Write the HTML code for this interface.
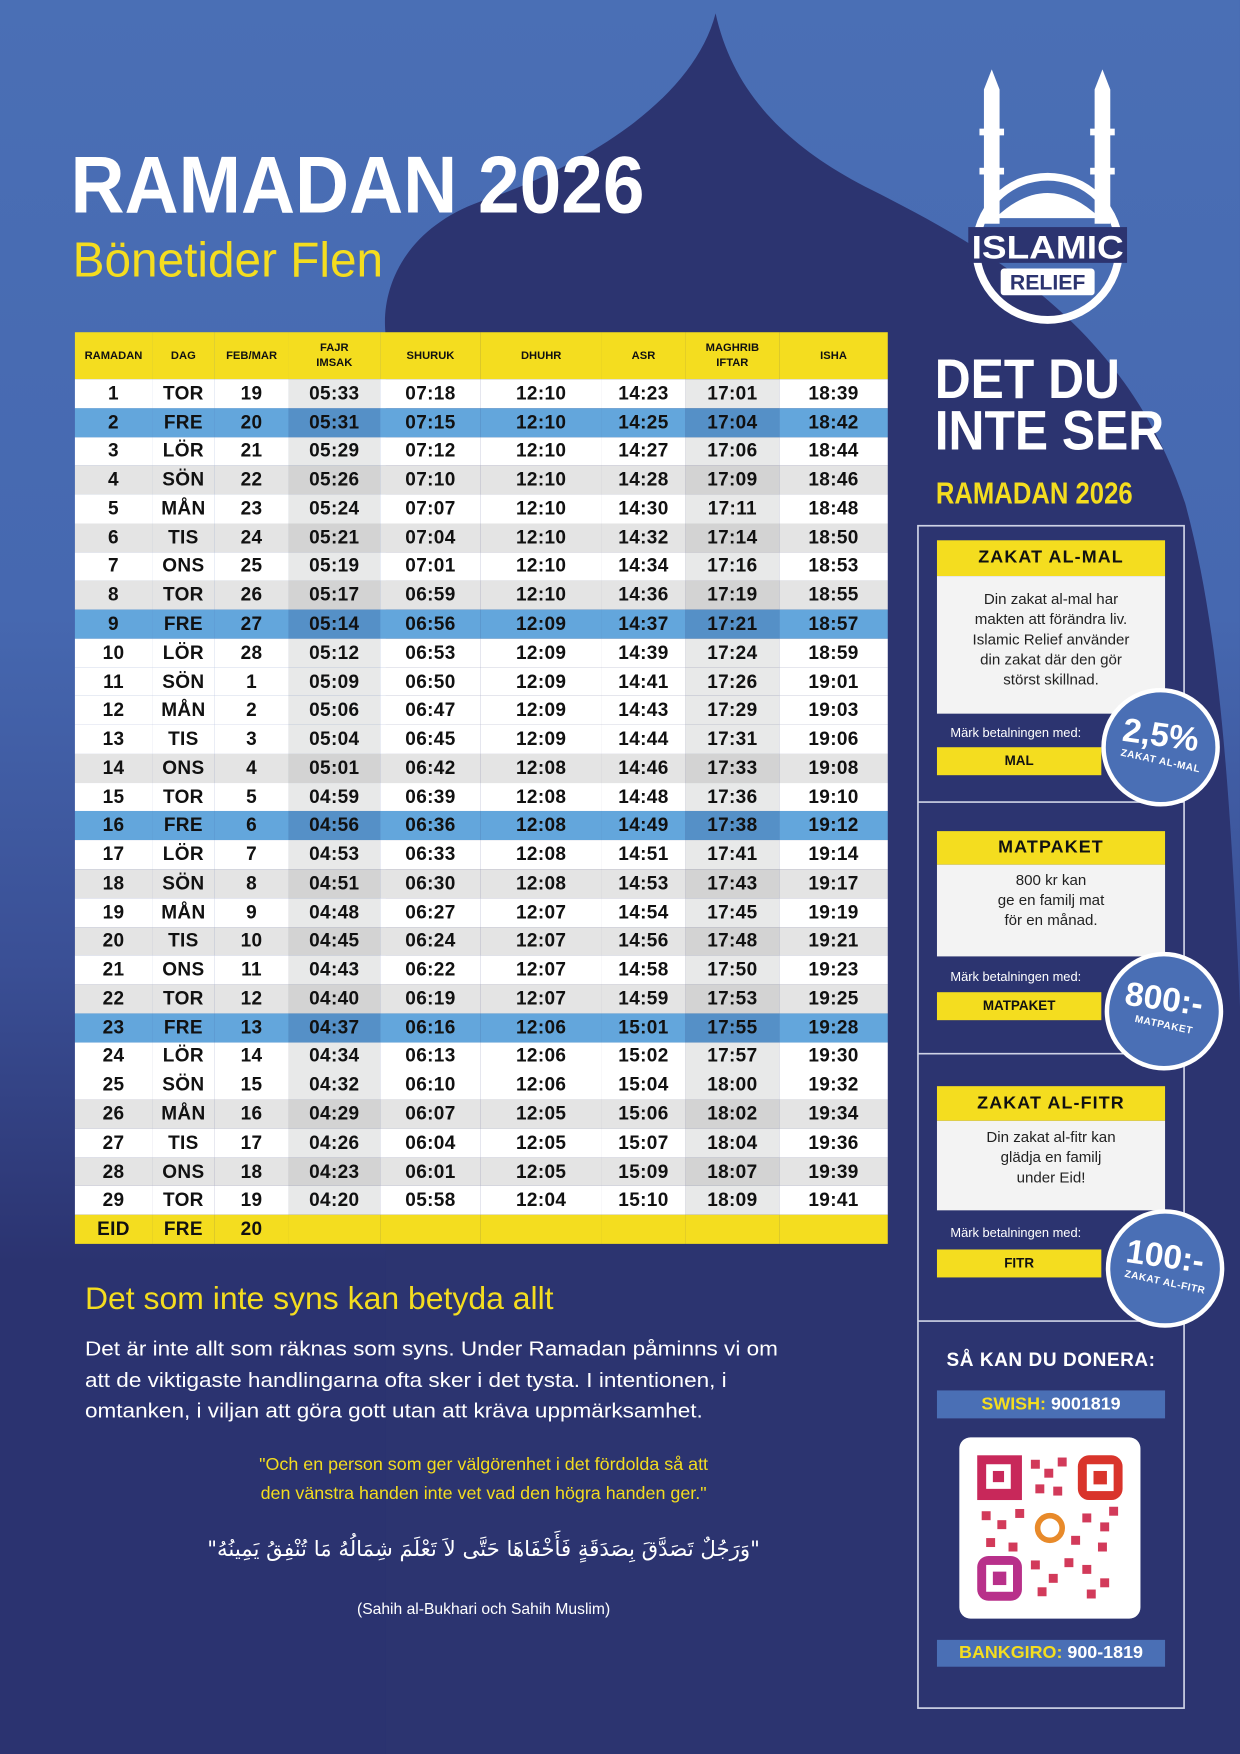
<!DOCTYPE html>
<html><head><meta charset="utf-8"><style>
html,body{margin:0;padding:0;width:1240px;height:1754px;overflow:hidden;background:#2b3370}
#w{position:absolute;left:0;top:0;width:1109px;height:1568px;transform:scale(1.1181,1.1186);transform-origin:0 0;font-family:"Liberation Sans","DejaVu Sans",sans-serif;overflow:hidden;background:linear-gradient(180deg,#4a6fb5 0%,#4668b0 35%,#3a4f95 55%,#2b3370 72%,#2b3370 100%)}
.a{position:absolute}
table{border-collapse:collapse;border-spacing:0;position:absolute;left:67px;top:297px;width:727px;table-layout:fixed;font-weight:bold;color:#111}
td{padding:0;border:0;text-align:center;height:25.77px;font-size:17px;letter-spacing:.3px}
th{background:#f4dd1f;height:42px;font-size:10px;line-height:13px;font-weight:bold;color:#111;padding:0;border:0}
tr.w td{background:#fff}tr.g td{background:#e4e4e4}tr.b td{background:#63a6dc}
tr.w td.s{background:#e8e9e9}tr.g td.s{background:#d3d3d3}tr.b td.s{background:#5590c7}
tr.y td{background:#f4dd1f}
.hd{position:absolute;left:838px;width:204px;background:#f4dd1f;color:#111;font-weight:bold;font-size:16px;text-align:center;letter-spacing:1px}
.bx{position:absolute;left:838px;width:204px;background:#f3f3f3;color:#222;font-size:13.5px;line-height:18px;text-align:center}
.mk{position:absolute;left:850px;color:#fff;font-size:11.5px}
.bar{position:absolute;left:838px;width:147px;height:25px;background:#f4dd1f;color:#111;font-weight:bold;font-size:12px;text-align:center;line-height:25px}
.c{position:absolute;width:98px;height:98px;border-radius:50%;background:#4a6fb5;border:4px solid #fff;color:#fff;text-align:center;font-weight:bold}
.c b{display:block;font-size:30px;margin-top:22px;transform:rotate(8deg)}
.c i{display:block;font-style:normal;font-size:9px;transform:rotate(12deg);letter-spacing:.5px}
</style></head><body><div id="w">
<svg class="a" style="left:0;top:0" width="1109" height="1568">
<path d="M640 12 C620 90 520 150 430 180 C360 205 340 260 345 300 L345 1568 L1109 1568 L1109 900 C1100 700 1090 560 1060 450 C1010 300 900 230 780 170 C700 130 655 80 640 12 Z" fill="#2c3470"/>
<rect x="821" y="470" width="238" height="1057" fill="none" stroke="#cfd3e6" stroke-width="1.5"/>
<line x1="821" y1="717" x2="1059" y2="717" stroke="#cfd3e6" stroke-width="1.5"/>
<line x1="821" y1="942" x2="1059" y2="942" stroke="#cfd3e6" stroke-width="1.5"/>
<line x1="821" y1="1181" x2="1059" y2="1181" stroke="#cfd3e6" stroke-width="1.5"/>
<g fill="#fff">
<rect x="880" y="80" width="14" height="120"/><polygon points="880,80 887,62 894,80"/><rect x="876" y="115" width="22" height="6"/><rect x="876" y="150" width="22" height="6"/>
<rect x="979" y="80" width="14" height="120"/><polygon points="979,80 986,62 993,80"/><rect x="975" y="115" width="22" height="6"/><rect x="975" y="150" width="22" height="6"/>
<circle cx="937" cy="222" r="64" fill="none" stroke="#fff" stroke-width="7"/>
<path d="M890 195 Q937 150 984 195Z"/>
<rect x="866" y="203" width="142" height="32" fill="#2c3470"/>
<rect x="895" y="240" width="84" height="24" rx="3"/>
</g>
<text x="937" y="231" fill="#fff" font-size="29" font-weight="bold" text-anchor="middle" font-family="Liberation Sans" textLength="136" lengthAdjust="spacingAndGlyphs">ISLAMIC</text>
<text x="937" y="259" fill="#2c3470" font-size="19" font-weight="bold" text-anchor="middle" font-family="Liberation Sans">RELIEF</text>
</svg>
<div class="a" style="left:63px;top:128px;color:#fff;font-size:72px;font-weight:bold;line-height:76px;white-space:nowrap;transform:scaleX(.93);transform-origin:0 0">RAMADAN 2026</div>
<div class="a" style="left:65px;top:208px;color:#f4dd1f;font-size:44px;line-height:50px;white-space:nowrap;transform:scaleX(.97);transform-origin:0 0">Bönetider Flen</div>
<table>
<colgroup><col style="width:69px"><col style="width:56px"><col style="width:66px"><col style="width:82px"><col style="width:90px"><col style="width:108px"><col style="width:75px"><col style="width:84px"><col style="width:97px"></colgroup>
<tr><th>RAMADAN</th><th>DAG</th><th>FEB/MAR</th><th>FAJR<br>IMSAK</th><th>SHURUK</th><th>DHUHR</th><th>ASR</th><th>MAGHRIB<br>IFTAR</th><th>ISHA</th></tr>
<tr class="w"><td>1</td><td>TOR</td><td>19</td><td class="s">05:33</td><td>07:18</td><td>12:10</td><td>14:23</td><td class="s">17:01</td><td>18:39</td></tr>
<tr class="b"><td>2</td><td>FRE</td><td>20</td><td class="s">05:31</td><td>07:15</td><td>12:10</td><td>14:25</td><td class="s">17:04</td><td>18:42</td></tr>
<tr class="w"><td>3</td><td>LÖR</td><td>21</td><td class="s">05:29</td><td>07:12</td><td>12:10</td><td>14:27</td><td class="s">17:06</td><td>18:44</td></tr>
<tr class="g"><td>4</td><td>SÖN</td><td>22</td><td class="s">05:26</td><td>07:10</td><td>12:10</td><td>14:28</td><td class="s">17:09</td><td>18:46</td></tr>
<tr class="w"><td>5</td><td>MÅN</td><td>23</td><td class="s">05:24</td><td>07:07</td><td>12:10</td><td>14:30</td><td class="s">17:11</td><td>18:48</td></tr>
<tr class="g"><td>6</td><td>TIS</td><td>24</td><td class="s">05:21</td><td>07:04</td><td>12:10</td><td>14:32</td><td class="s">17:14</td><td>18:50</td></tr>
<tr class="w"><td>7</td><td>ONS</td><td>25</td><td class="s">05:19</td><td>07:01</td><td>12:10</td><td>14:34</td><td class="s">17:16</td><td>18:53</td></tr>
<tr class="g"><td>8</td><td>TOR</td><td>26</td><td class="s">05:17</td><td>06:59</td><td>12:10</td><td>14:36</td><td class="s">17:19</td><td>18:55</td></tr>
<tr class="b"><td>9</td><td>FRE</td><td>27</td><td class="s">05:14</td><td>06:56</td><td>12:09</td><td>14:37</td><td class="s">17:21</td><td>18:57</td></tr>
<tr class="w"><td>10</td><td>LÖR</td><td>28</td><td class="s">05:12</td><td>06:53</td><td>12:09</td><td>14:39</td><td class="s">17:24</td><td>18:59</td></tr>
<tr class="w"><td>11</td><td>SÖN</td><td>1</td><td class="s">05:09</td><td>06:50</td><td>12:09</td><td>14:41</td><td class="s">17:26</td><td>19:01</td></tr>
<tr class="w"><td>12</td><td>MÅN</td><td>2</td><td class="s">05:06</td><td>06:47</td><td>12:09</td><td>14:43</td><td class="s">17:29</td><td>19:03</td></tr>
<tr class="w"><td>13</td><td>TIS</td><td>3</td><td class="s">05:04</td><td>06:45</td><td>12:09</td><td>14:44</td><td class="s">17:31</td><td>19:06</td></tr>
<tr class="g"><td>14</td><td>ONS</td><td>4</td><td class="s">05:01</td><td>06:42</td><td>12:08</td><td>14:46</td><td class="s">17:33</td><td>19:08</td></tr>
<tr class="w"><td>15</td><td>TOR</td><td>5</td><td class="s">04:59</td><td>06:39</td><td>12:08</td><td>14:48</td><td class="s">17:36</td><td>19:10</td></tr>
<tr class="b"><td>16</td><td>FRE</td><td>6</td><td class="s">04:56</td><td>06:36</td><td>12:08</td><td>14:49</td><td class="s">17:38</td><td>19:12</td></tr>
<tr class="w"><td>17</td><td>LÖR</td><td>7</td><td class="s">04:53</td><td>06:33</td><td>12:08</td><td>14:51</td><td class="s">17:41</td><td>19:14</td></tr>
<tr class="g"><td>18</td><td>SÖN</td><td>8</td><td class="s">04:51</td><td>06:30</td><td>12:08</td><td>14:53</td><td class="s">17:43</td><td>19:17</td></tr>
<tr class="w"><td>19</td><td>MÅN</td><td>9</td><td class="s">04:48</td><td>06:27</td><td>12:07</td><td>14:54</td><td class="s">17:45</td><td>19:19</td></tr>
<tr class="g"><td>20</td><td>TIS</td><td>10</td><td class="s">04:45</td><td>06:24</td><td>12:07</td><td>14:56</td><td class="s">17:48</td><td>19:21</td></tr>
<tr class="w"><td>21</td><td>ONS</td><td>11</td><td class="s">04:43</td><td>06:22</td><td>12:07</td><td>14:58</td><td class="s">17:50</td><td>19:23</td></tr>
<tr class="g"><td>22</td><td>TOR</td><td>12</td><td class="s">04:40</td><td>06:19</td><td>12:07</td><td>14:59</td><td class="s">17:53</td><td>19:25</td></tr>
<tr class="b"><td>23</td><td>FRE</td><td>13</td><td class="s">04:37</td><td>06:16</td><td>12:06</td><td>15:01</td><td class="s">17:55</td><td>19:28</td></tr>
<tr class="w"><td>24</td><td>LÖR</td><td>14</td><td class="s">04:34</td><td>06:13</td><td>12:06</td><td>15:02</td><td class="s">17:57</td><td>19:30</td></tr>
<tr class="w"><td>25</td><td>SÖN</td><td>15</td><td class="s">04:32</td><td>06:10</td><td>12:06</td><td>15:04</td><td class="s">18:00</td><td>19:32</td></tr>
<tr class="g"><td>26</td><td>MÅN</td><td>16</td><td class="s">04:29</td><td>06:07</td><td>12:05</td><td>15:06</td><td class="s">18:02</td><td>19:34</td></tr>
<tr class="w"><td>27</td><td>TIS</td><td>17</td><td class="s">04:26</td><td>06:04</td><td>12:05</td><td>15:07</td><td class="s">18:04</td><td>19:36</td></tr>
<tr class="g"><td>28</td><td>ONS</td><td>18</td><td class="s">04:23</td><td>06:01</td><td>12:05</td><td>15:09</td><td class="s">18:07</td><td>19:39</td></tr>
<tr class="w"><td>29</td><td>TOR</td><td>19</td><td class="s">04:20</td><td>05:58</td><td>12:04</td><td>15:10</td><td class="s">18:09</td><td>19:41</td></tr>
<tr class="y"><td>EID</td><td>FRE</td><td>20</td><td></td><td></td><td></td><td></td><td></td><td></td></tr>
</table>
<div class="a" style="left:836px;top:316px;color:#fff;font-size:50px;font-weight:bold;line-height:46px;width:210px;transform:scaleX(.89);transform-origin:0 0;white-space:nowrap">DET DU<br>INTE SER</div>
<div class="a" style="left:837px;top:426px;color:#f4dd1f;font-size:27px;font-weight:bold;white-space:nowrap;transform:scaleX(.85);transform-origin:0 0">RAMADAN 2026</div>

<div class="hd" style="top:483px;height:32px;line-height:32px">ZAKAT AL-MAL</div>
<div class="bx" style="top:515px;height:123px;padding-top:12px;box-sizing:border-box">Din zakat al-mal har<br>makten att förändra liv.<br>Islamic Relief använder<br>din zakat där den gör<br>störst skillnad.</div>
<div class="mk" style="top:650px">Märk betalningen med:</div>
<div class="bar" style="top:668px">MAL</div>
<div class="c" style="left:985px;top:615px"><b>2,5%</b><i>ZAKAT AL-MAL</i></div>

<div class="hd" style="top:743px;height:30px;line-height:30px">MATPAKET</div>
<div class="bx" style="top:773px;height:82px;padding-top:5px;box-sizing:border-box">800 kr kan<br>ge en familj mat<br>för en månad.</div>
<div class="mk" style="top:868px">Märk betalningen med:</div>
<div class="bar" style="top:887px">MATPAKET</div>
<div class="c" style="left:988px;top:851px"><b>800:-</b><i>MATPAKET</i></div>

<div class="hd" style="top:971px;height:31px;line-height:31px">ZAKAT AL-FITR</div>
<div class="bx" style="top:1002px;height:80px;padding-top:6px;box-sizing:border-box">Din zakat al-fitr kan<br>glädja en familj<br>under Eid!</div>
<div class="mk" style="top:1097px">Märk betalningen med:</div>
<div class="bar" style="top:1117px">FITR</div>
<div class="c" style="left:989px;top:1081px"><b>100:-</b><i>ZAKAT AL-FITR</i></div>

<div class="a" style="left:821px;width:238px;top:1206px;text-align:center;color:#fff;font-weight:bold;font-size:17px;letter-spacing:.5px">SÅ KAN DU DONERA:</div>
<div class="a" style="left:838px;top:1243px;width:204px;height:25px;background:#4a6fb5;text-align:center;line-height:25px;font-weight:bold;font-size:16px;color:#fff"><span style="color:#f4dd1f">SWISH:</span> 9001819</div>
<div class="a" style="left:858px;top:1285px;width:162px;height:162px;background:#fff;border-radius:10px"></div>
<svg class="a" style="left:872px;top:1299px" width="134" height="134">
<rect x="2" y="2" width="40" height="40" fill="#c8285a"/><rect x="10" y="10" width="22" height="22" fill="#fff"/><rect x="16" y="16" width="10" height="10" fill="#c8285a"/>
<rect x="92" y="2" width="40" height="40" rx="10" fill="#d9342b"/><rect x="100" y="10" width="24" height="24" fill="#fff"/><rect x="106" y="16" width="12" height="12" fill="#d9342b"/>
<rect x="2" y="92" width="40" height="40" rx="10" fill="#b8308a"/><rect x="10" y="100" width="24" height="24" fill="#fff"/><rect x="16" y="106" width="12" height="12" fill="#b8308a"/>
<g fill="#d23a5a"><rect x="50" y="6" width="8" height="8"/><rect x="62" y="14" width="8" height="8"/><rect x="74" y="4" width="8" height="8"/><rect x="54" y="28" width="8" height="8"/><rect x="70" y="30" width="8" height="8"/><rect x="6" y="52" width="8" height="8"/><rect x="20" y="60" width="8" height="8"/><rect x="36" y="50" width="8" height="8"/><rect x="96" y="54" width="8" height="8"/><rect x="112" y="62" width="8" height="8"/><rect x="120" y="48" width="8" height="8"/><rect x="50" y="96" width="8" height="8"/><rect x="66" y="108" width="8" height="8"/><rect x="80" y="94" width="8" height="8"/><rect x="96" y="100" width="8" height="8"/><rect x="112" y="112" width="8" height="8"/><rect x="100" y="122" width="8" height="8"/><rect x="56" y="120" width="8" height="8"/><rect x="10" y="76" width="8" height="8"/><rect x="30" y="80" width="8" height="8"/><rect x="110" y="80" width="8" height="8"/><rect x="86" y="74" width="8" height="8"/></g>
<circle cx="67" cy="67" r="11" fill="none" stroke="#e88a2a" stroke-width="5"/>
</svg>
<div class="a" style="left:838px;top:1466px;width:204px;height:24px;background:#4a6fb5;text-align:center;line-height:24px;font-weight:bold;font-size:16px;color:#fff"><span style="color:#f4dd1f">BANKGIRO:</span> 900-1819</div>

<div class="a" style="left:76px;top:1145px;color:#f4dd1f;font-size:28px;white-space:nowrap;transform:scaleX(1.02);transform-origin:0 0">Det som inte syns kan betyda allt</div>
<div class="a" style="left:76px;top:1192px;color:#fff;font-size:18.5px;line-height:27.5px;white-space:nowrap;transform:scaleX(1.09);transform-origin:0 0">Det är inte allt som räknas som syns. Under Ramadan påminns vi om<br>att de viktigaste handlingarna ofta sker i det tysta. I intentionen, i<br>omtanken, i viljan att göra gott utan att kräva uppmärksamhet.</div>
<div class="a" style="left:100px;width:665px;top:1297px;color:#f4dd1f;font-size:16px;line-height:26px;text-align:center">"Och en person som ger välgörenhet i det fördolda så att<br>den vänstra handen inte vet vad den högra handen ger."</div>
<div class="a" style="left:100px;width:665px;top:1374px;color:#fff;font-size:19px;text-align:center;font-family:'DejaVu Sans',sans-serif" dir="rtl">"وَرَجُلٌ تَصَدَّقَ بِصَدَقَةٍ فَأَخْفَاهَا حَتَّى لاَ تَعْلَمَ شِمَالُهُ مَا تُنْفِقُ يَمِينُهُ"</div>
<div class="a" style="left:100px;width:665px;top:1430px;color:#fff;font-size:14px;text-align:center">(Sahih al-Bukhari och Sahih Muslim)</div>
</div></body></html>
